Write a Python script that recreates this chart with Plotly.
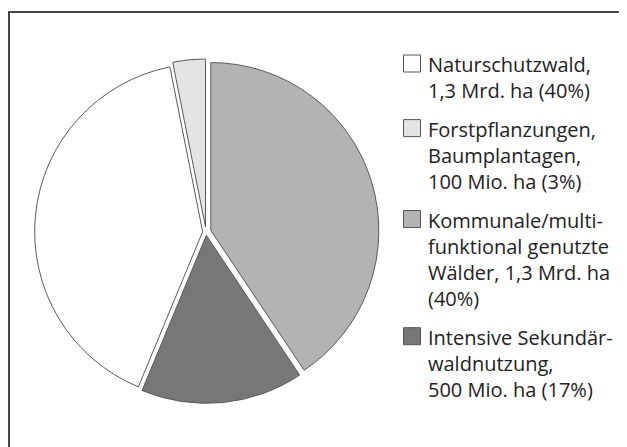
import plotly.graph_objects as go

# ---- data -------------------------------------------------------------
labels = [
    "Naturschutzwald",
    "Forstpflanzungen, Baumplantagen",
    "Kommunale/multifunktional genutzte Wälder",
    "Intensive Sekundärwaldnutzung",
]
area_mio_ha = [1300, 100, 1300, 500]
legend_lines = [
    ["Naturschutzwald,", "1,3 Mrd. ha (40%)"],
    ["Forstpflanzungen,", "Baumplantagen,", "100 Mio. ha (3%)"],
    ["Kommunale/multi-", "funktional genutzte", "Wälder, 1,3 Mrd. ha", "(40%)"],
    ["Intensive Sekundär-", "waldnutzung,", "500 Mio. ha (17%)"],
]
slice_colors = ["#ffffff", "#e4e4e4", "#b3b3b3", "#777777"]

# ---- figure geometry (screen pixels; page body adds an 8px offset) -----
W, H = 627, 447
OFF = 8
pulls = [0.02, 0.03, 0.03, 0.02]
cx, cy, r = 206, 232, 168
half = r * (1 + max(pulls))


def px_x(x):
    return (x - OFF) / W


def px_y(y):
    return 1 - (y - OFF) / H


total = sum(area_mio_ha)
# Kommunale slice starts at 12 o'clock, the slices before it are rotated back
rotation = -(area_mio_ha[0] + area_mio_ha[1]) / total * 360

fig = go.Figure(
    go.Pie(
        labels=labels,
        values=area_mio_ha,
        sort=False,
        direction="clockwise",
        rotation=rotation,
        pull=pulls,
        textinfo="none",
        marker=dict(colors=slice_colors, line=dict(color="#5a5a5a", width=1)),
        domain=dict(
            x=[px_x(cx - half), px_x(cx + half)],
            y=[px_y(cy + half), px_y(cy - half)],
        ),
        showlegend=False,
        hoverinfo="label+value",
    )
)

# ---- manual legend built from the label lists -------------------------
shapes = []
annotations = []
line_h = 26.3
item_gap = 12
sq = 17
sq_x0 = 403.5
text_x = 425.5
top = 55
for lines, col in zip(legend_lines, slice_colors):
    shapes.append(
        dict(
            type="rect", xref="paper", yref="paper",
            x0=px_x(sq_x0), x1=px_x(sq_x0 + sq),
            y0=px_y(top + sq), y1=px_y(top),
            fillcolor=col, line=dict(color="#555555", width=1),
        )
    )
    annotations.append(
        dict(
            xref="paper", yref="paper",
            x=px_x(text_x), y=px_y(top - 6),
            xanchor="left", yanchor="top", align="left",
            text="<br>".join(lines), showarrow=False,
            font=dict(family="Open Sans", size=20, color="#222222"),
        )
    )
    top += len(lines) * line_h + item_gap

# frame (top and left edges visible, rest runs off the page)
shapes.append(
    dict(
        type="rect", xref="paper", yref="paper",
        x0=px_x(9), x1=1.05, y0=-0.05, y1=px_y(12),
        line=dict(color="#444444", width=2), fillcolor="rgba(0,0,0,0)",
        layer="above",
    )
)

fig.update_layout(
    width=W, height=H,
    margin=dict(l=0, r=0, t=0, b=0),
    paper_bgcolor="white", plot_bgcolor="white",
    shapes=shapes, annotations=annotations,
    showlegend=False,
)

fig.write_html("out.html")
